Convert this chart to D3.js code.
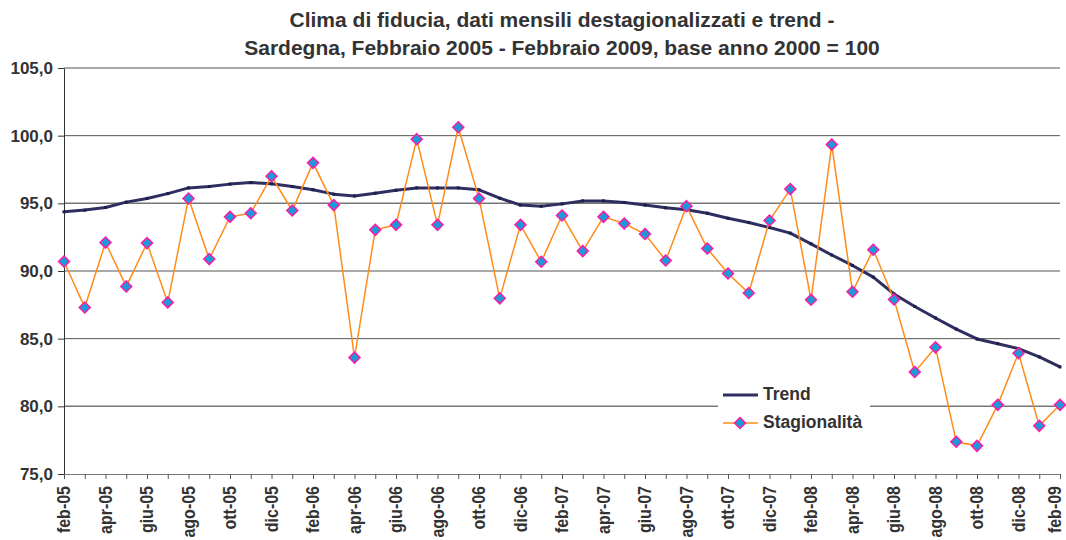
<!DOCTYPE html>
<html>
<head>
<meta charset="utf-8">
<script src="https://cdn.jsdelivr.net/npm/d3@7"></script>
<style>
  body { margin: 0; background: #fff; }
  svg { font-family: "Liberation Sans", Arial, sans-serif; }
</style>
</head>
<body>
<svg id="chart"></svg>
<script>
const width = 1066;
const height = 540;
const margin = {top: 68, right: 6, bottom: 66, left: 64};

const mesi = ['gen', 'feb', 'mar', 'apr', 'mag', 'giu', 'lug', 'ago', 'set', 'ott', 'nov', 'dic'];
// feb-05 .. feb-09
const months = d3.range(49).map(i => {
    const m = (i + 1) % 12;
    const y = 5 + Math.floor((i + 1) / 12);
    return mesi[m] + '-0' + y;
});

const trend = [
    94.37, 94.5, 94.69, 95.09, 95.36, 95.72, 96.14, 96.24, 96.42, 96.54, 96.44, 96.24,
    96.0, 95.68, 95.55, 95.75, 95.97, 96.14, 96.14, 96.14, 96.0, 95.38, 94.87, 94.79,
    94.96, 95.18, 95.18, 95.06, 94.87, 94.67, 94.52, 94.27, 93.9, 93.58, 93.21, 92.8,
    92.01, 91.18, 90.41, 89.55, 88.3, 87.38, 86.53, 85.71, 84.98, 84.63, 84.26, 83.65,
    82.91
];

const stagionalita = [
    90.7, 87.3, 92.1, 88.86, 92.06, 87.68, 95.36, 90.88, 94.0, 94.27, 97.0, 94.47,
    97.99, 94.87, 83.6, 93.04, 93.41, 99.74, 93.41, 100.62, 95.36, 87.98, 93.41, 90.68,
    94.1, 91.47, 94.0, 93.51, 92.73, 90.78, 94.79, 91.66, 89.82, 88.37, 93.73, 96.05,
    87.88, 99.34, 88.47, 91.57, 87.9, 82.54, 84.36, 77.38, 77.08, 80.11, 83.92, 78.56,
    80.11
];

const yTicks = [75, 80, 85, 90, 95, 100, 105];

const svg = d3.select('#chart')
    .attr('width', width)
    .attr('height', height);

const x = d3.scalePoint()
    .domain(months)
    .range([margin.left, width - margin.right]);

const y = d3.scaleLinear()
    .domain([75, 105])
    .range([height - margin.bottom, margin.top]);

const fmt = d => d3.format('.1f')(d).replace('.', ',');
const cx = (margin.left + width - margin.right) / 2;

// title
const title = svg.append('text')
    .attr('x', cx)
    .attr('text-anchor', 'middle')
    .attr('font-size', 21)
    .attr('font-weight', 'bold')
    .attr('fill', '#333');
title.append('tspan').attr('x', cx).attr('y', 27)
    .text('Clima di fiducia, dati mensili destagionalizzati e trend -');
title.append('tspan').attr('x', cx).attr('y', 55)
    .text('Sardegna, Febbraio 2005 - Febbraio 2009, base anno 2000 = 100');

// gridlines
svg.append('g')
    .selectAll('line')
    .data(yTicks.slice(1))
    .enter().append('line')
    .attr('x1', margin.left)
    .attr('x2', width - margin.right)
    .attr('y1', d => y(d))
    .attr('y2', d => y(d))
    .attr('stroke', d => (d === 95 || d === 80) ? '#777' : '#555')
    .attr('stroke-width', d => (d === 95 || d === 80) ? 1.5 : 1);

// y axis
const yAxis = svg.append('g')
    .attr('transform', `translate(${margin.left},0)`)
    .call(d3.axisLeft(y).tickValues(yTicks).tickFormat(fmt).tickSize(6).tickSizeOuter(0));
yAxis.select('.domain').attr('stroke', '#333');
yAxis.selectAll('.tick line').attr('stroke', '#333');
yAxis.selectAll('.tick text')
    .attr('font-size', 17)
    .attr('font-weight', 'bold')
    .attr('fill', '#333')
    .attr('font-family', '"Liberation Sans", Arial, sans-serif')
    .attr('x', -11);

// x axis
const xAxis = svg.append('g')
    .attr('transform', `translate(0,${height - margin.bottom})`)
    .call(d3.axisBottom(x).tickSize(5).tickSizeOuter(0)
        .tickFormat((d, i) => i % 2 === 0 ? d : ''));
xAxis.select('.domain').attr('stroke', '#777');
xAxis.selectAll('.tick line').attr('stroke', '#555');
xAxis.selectAll('.tick text')
    .attr('font-size', 16)
    .attr('font-weight', 'bold')
    .attr('fill', '#333')
    .attr('font-family', '"Liberation Sans", Arial, sans-serif')
    .attr('transform', 'scale(1.15,1) rotate(-90)')
    .attr('text-anchor', 'end')
    .attr('x', -12)
    .attr('y', 0)
    .attr('dy', (d, i) => i === months.length - 1 ? '0.05em' : '0.3em');

// trend line
const line = d3.line()
    .x((d, i) => x(months[i]))
    .y(d => y(d));

svg.append('path')
    .datum(trend)
    .attr('fill', 'none')
    .attr('stroke', '#2e2e60')
    .attr('stroke-width', 3)
    .attr('stroke-linejoin', 'round')
    .attr('d', line);

svg.append('g')
    .selectAll('rect')
    .data(trend)
    .enter().append('rect')
    .attr('x', (d, i) => x(months[i]) - 1.5)
    .attr('y', d => y(d) - 1.5)
    .attr('width', 3)
    .attr('height', 3)
    .attr('fill', '#1e1e48');

// stagionalita line
svg.append('path')
    .datum(stagionalita)
    .attr('fill', 'none')
    .attr('stroke', '#ff8c1a')
    .attr('stroke-width', 1.5)
    .attr('d', line);

const diamond = 'M0,-5.5L5.5,0L0,5.5L-5.5,0Z';

svg.append('g')
    .selectAll('path')
    .data(stagionalita)
    .enter().append('path')
    .attr('d', diamond)
    .attr('transform', (d, i) => `translate(${x(months[i])},${y(d)})`)
    .attr('fill', '#1a9ad6')
    .attr('stroke', '#ff1aa8')
    .attr('stroke-width', 1.5);

// legend
const legend = svg.append('g').attr('transform', 'translate(718,378)');
legend.append('rect')
    .attr('width', 152)
    .attr('height', 58)
    .attr('fill', '#fff');
legend.append('line')
    .attr('x1', 5).attr('x2', 40)
    .attr('y1', 17).attr('y2', 17)
    .attr('stroke', '#2e2e60').attr('stroke-width', 3);
legend.append('text')
    .attr('x', 45).attr('y', 22)
    .attr('font-size', 17.5).attr('font-weight', 'bold').attr('fill', '#333')
    .text('Trend');
legend.append('line')
    .attr('x1', 5).attr('x2', 40)
    .attr('y1', 45).attr('y2', 45)
    .attr('stroke', '#ff8c1a').attr('stroke-width', 1.5);
legend.append('path')
    .attr('d', diamond)
    .attr('transform', 'translate(22,45)')
    .attr('fill', '#1a9ad6')
    .attr('stroke', '#ff1aa8')
    .attr('stroke-width', 1.5);
legend.append('text')
    .attr('x', 45).attr('y', 50)
    .attr('font-size', 17.5).attr('font-weight', 'bold').attr('fill', '#333')
    .text('Stagionalità');
</script>
</body>
</html>
